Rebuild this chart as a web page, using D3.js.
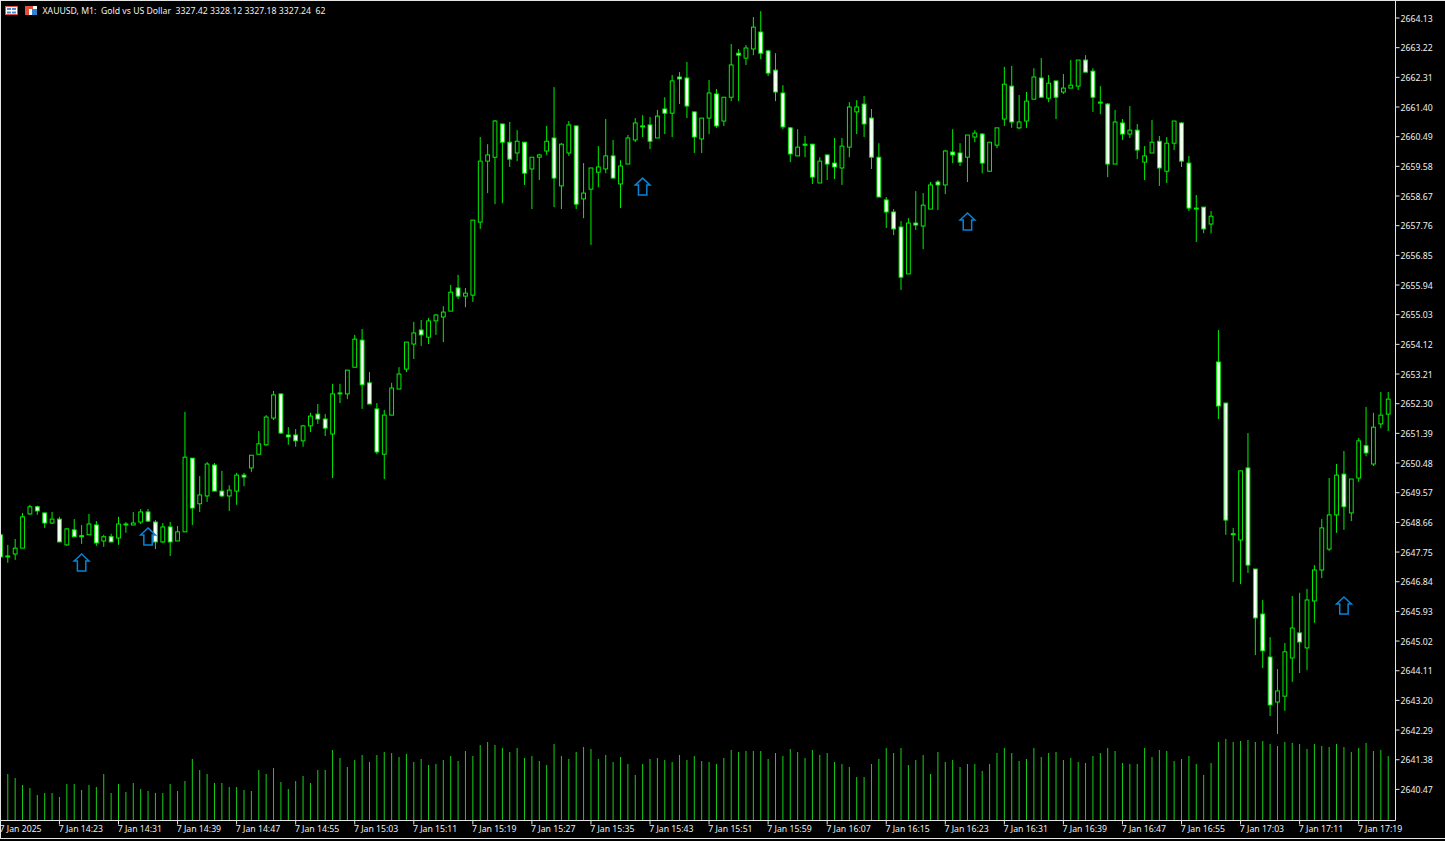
<!DOCTYPE html>
<html><head><meta charset="utf-8"><title>XAUUSD M1</title>
<script src="https://cdnjs.cloudflare.com/ajax/libs/d3/7.9.0/d3.min.js"></script>
<style>html,body{margin:0;padding:0;background:#000;overflow:hidden}svg{display:block}text{font-family:"Noto Sans",sans-serif;fill:#efefef}</style>
</head><body><svg id="c" width="1445" height="841"></svg>
<script>
const titleText = "XAUUSD, M1:  Gold vs US Dollar  3327.42 3328.12 3327.18 3327.24  62";
const priceTicks = [2664.13,2663.22,2662.31,2661.40,2660.49,2659.58,2658.67,2657.76,2656.85,2655.94,2655.03,2654.12,2653.21,2652.30,2651.39,2650.48,2649.57,2648.66,2647.75,2646.84,2645.93,2645.02,2644.11,2643.20,2642.29,2641.38,2640.47];
const timeLabels = ["7 Jan 2025","7 Jan 14:23","7 Jan 14:31","7 Jan 14:39","7 Jan 14:47","7 Jan 14:55","7 Jan 15:03","7 Jan 15:11","7 Jan 15:19","7 Jan 15:27","7 Jan 15:35","7 Jan 15:43","7 Jan 15:51","7 Jan 15:59","7 Jan 16:07","7 Jan 16:15","7 Jan 16:23","7 Jan 16:31","7 Jan 16:39","7 Jan 16:47","7 Jan 16:55","7 Jan 17:03","7 Jan 17:11","7 Jan 17:19"];
const opens = [2648.28,2647.63,2647.69,2647.87,2648.92,2649.14,2648.95,2648.64,2648.76,2647.97,2648.43,2648.25,2648.28,2648.58,2648.09,2648.22,2648.18,2648.61,2648.58,2648.67,2648.98,2648.67,2648.06,2648.52,2648.09,2648.37,2650.63,2649.23,2649.47,2650.42,2649.62,2649.47,2649.62,2650.11,2650.33,2650.75,2651.04,2651.86,2652.60,2651.34,2651.34,2651.16,2651.62,2651.98,2651.83,2651.37,2652.63,2652.60,2653.42,2654.25,2652.94,2652.14,2650.75,2651.95,2652.75,2653.36,2654.13,2654.56,2654.34,2654.84,2654.96,2655.14,2655.85,2655.60,2655.63,2657.87,2659.74,2659.86,2660.88,2660.32,2659.99,2660.32,2659.50,2659.86,2660.05,2660.45,2658.98,2659.99,2660.82,2658.58,2658.88,2659.40,2659.50,2659.90,2659.04,2659.65,2660.39,2660.82,2660.85,2660.45,2661.34,2661.21,2662.32,2662.29,2661.25,2660.42,2661.06,2661.80,2660.97,2661.70,2663.05,2662.90,2663.18,2663.70,2663.12,2662.53,2661.83,2660.76,2659.90,2660.26,2660.26,2659.07,2659.93,2659.68,2659.53,2660.17,2661.25,2661.49,2661.06,2659.86,2658.55,2658.18,2657.72,2656.28,2657.84,2657.75,2658.27,2659.10,2659.01,2660.02,2659.99,2659.86,2660.48,2660.57,2659.43,2660.23,2661.03,2662.04,2660.76,2660.97,2661.64,2662.29,2661.67,2662.20,2661.86,2661.98,2662.04,2662.84,2662.50,2661.55,2661.49,2659.65,2660.91,2660.57,2660.69,2659.71,2659.99,2660.35,2659.43,2660.29,2660.91,2659.68,2658.30,2658.33,2657.81,2653.58,2652.32,2648.31,2648.12,2650.33,2647.23,2645.85,2644.53,2643.15,2643.33,2644.50,2645.27,2644.81,2646.25,2647.20,2647.84,2648.89,2650.14,2648.95,2650.02,2651.01,2650.45,2651.68,2651.98];
const highs = [2648.28,2647.97,2648.15,2648.95,2649.20,2649.17,2648.95,2648.98,2648.83,2648.49,2648.76,2648.58,2648.92,2648.70,2648.28,2648.31,2648.83,2648.67,2648.98,2649.07,2649.07,2648.73,2648.64,2648.67,2648.55,2652.05,2650.63,2650.08,2650.51,2650.48,2650.24,2649.80,2650.18,2650.18,2650.72,2651.46,2651.95,2652.69,2652.60,2651.58,2651.52,2651.65,2652.02,2652.29,2651.98,2652.91,2652.91,2653.33,2654.41,2654.59,2653.27,2652.32,2652.11,2652.94,2653.42,2654.19,2654.81,2654.87,2654.93,2655.05,2655.29,2655.94,2656.25,2655.85,2657.93,2660.48,2660.26,2661.00,2660.88,2660.94,2660.69,2660.32,2659.86,2659.96,2660.82,2662.01,2660.29,2660.97,2660.82,2659.68,2659.53,2660.20,2661.03,2660.39,2659.77,2660.54,2661.06,2661.15,2661.09,2661.31,2661.70,2662.38,2662.47,2662.78,2661.25,2661.06,2662.23,2661.95,2661.70,2663.33,2663.18,2663.30,2664.16,2664.34,2663.15,2663.05,2662.07,2660.79,2660.72,2660.51,2660.26,2659.86,2659.93,2660.45,2660.45,2661.55,2661.61,2661.74,2661.34,2660.29,2658.64,2658.27,2657.90,2657.99,2658.82,2658.76,2659.10,2659.16,2660.08,2660.72,2660.29,2660.54,2660.69,2660.60,2660.32,2660.76,2662.63,2662.66,2661.77,2661.86,2662.59,2662.90,2662.38,2662.20,2662.41,2662.84,2662.84,2662.99,2662.59,2662.04,2661.52,2661.31,2661.03,2661.43,2660.88,2660.20,2661.00,2660.51,2660.48,2660.97,2660.94,2659.90,2658.70,2658.33,2658.21,2654.56,2652.32,2648.49,2650.24,2651.40,2647.23,2646.28,2645.14,2644.16,2644.96,2646.40,2646.50,2646.62,2647.35,2648.76,2650.02,2650.45,2650.85,2649.99,2651.25,2652.20,2652.02,2652.66,2652.66];
const lows = [2647.42,2647.42,2647.51,2647.87,2648.89,2648.89,2648.49,2648.61,2648.06,2647.94,2648.22,2648.00,2648.28,2647.94,2647.91,2648.06,2647.97,2648.34,2648.58,2648.61,2648.67,2647.84,2648.03,2647.63,2648.09,2648.37,2648.58,2648.98,2649.29,2649.62,2649.44,2649.01,2649.20,2649.77,2650.21,2650.75,2651.01,2651.80,2651.37,2651.04,2650.98,2650.98,2651.43,2651.68,2651.31,2650.02,2652.32,2652.44,2653.42,2652.14,2652.29,2650.75,2649.99,2651.95,2652.75,2653.27,2653.67,2654.07,2654.13,2654.41,2654.19,2655.14,2655.51,2655.26,2655.42,2657.66,2658.76,2658.42,2658.45,2659.56,2659.74,2659.01,2658.27,2659.16,2659.93,2658.33,2658.27,2659.90,2658.27,2657.99,2657.17,2658.94,2659.37,2659.22,2658.30,2659.65,2660.32,2660.48,2660.11,2660.45,2660.57,2660.48,2661.49,2661.06,2659.99,2659.99,2660.57,2660.76,2660.82,2661.58,2661.58,2662.69,2662.99,2662.87,2662.35,2661.58,2660.72,2659.71,2659.90,2659.86,2659.04,2659.07,2659.16,2659.19,2659.01,2659.86,2660.57,2660.48,2659.50,2658.64,2657.69,2657.47,2655.79,2656.28,2657.63,2657.04,2658.27,2658.24,2658.73,2659.68,2659.59,2659.10,2660.32,2659.37,2659.43,2660.14,2660.82,2660.76,2660.72,2660.76,2661.64,2661.70,2661.55,2661.03,2661.80,2661.98,2661.92,2662.47,2661.25,2661.18,2659.25,2659.65,2660.39,2660.45,2659.80,2659.16,2659.99,2658.98,2659.07,2660.08,2659.56,2658.21,2657.26,2657.53,2657.53,2651.83,2648.28,2646.83,2646.77,2647.11,2644.59,2644.19,2642.72,2642.17,2642.88,2643.77,2644.04,2644.13,2645.58,2646.95,2647.78,2648.34,2648.43,2648.70,2649.90,2650.69,2650.39,2651.55,2651.46];
const closes = [2647.60,2647.60,2647.87,2648.83,2649.14,2649.01,2648.64,2648.76,2648.06,2648.46,2648.22,2648.22,2648.61,2648.03,2648.22,2648.06,2648.61,2648.58,2648.64,2648.98,2648.70,2648.06,2648.52,2648.06,2648.37,2650.66,2649.10,2649.50,2650.45,2649.62,2649.47,2649.65,2650.11,2650.05,2650.72,2651.07,2651.89,2652.57,2651.40,2651.28,2651.16,2651.62,2651.92,2651.83,2651.55,2652.60,2652.60,2653.33,2654.28,2652.88,2652.29,2650.82,2651.95,2652.78,2653.21,2654.19,2654.47,2654.41,2654.84,2655.02,2655.11,2655.72,2655.60,2655.69,2657.93,2659.74,2659.93,2660.97,2660.32,2659.80,2660.35,2659.37,2659.86,2659.93,2660.35,2659.22,2660.26,2660.85,2658.42,2658.76,2659.53,2659.56,2659.90,2659.22,2659.59,2660.45,2660.91,2660.79,2660.35,2661.12,2661.21,2662.20,2662.26,2661.43,2660.48,2661.06,2661.83,2660.82,2661.70,2662.69,2662.99,2663.21,2663.85,2663.05,2662.44,2661.86,2660.79,2659.96,2660.17,2660.23,2659.25,2659.74,2659.65,2659.56,2660.20,2661.40,2661.40,2660.88,2659.86,2658.64,2658.18,2657.66,2656.18,2657.84,2657.78,2658.39,2659.01,2659.01,2660.05,2659.93,2659.71,2660.54,2660.60,2659.68,2660.32,2660.76,2662.10,2660.94,2660.94,2661.58,2662.32,2661.70,2662.13,2661.70,2661.98,2662.07,2662.84,2662.47,2661.70,2661.52,2659.65,2660.94,2660.57,2660.69,2660.08,2659.90,2660.32,2659.53,2660.29,2660.97,2659.74,2658.30,2658.27,2657.66,2658.05,2652.23,2648.73,2648.28,2650.24,2647.35,2645.73,2644.72,2643.06,2643.49,2644.69,2645.42,2644.99,2646.28,2647.20,2648.49,2648.89,2650.11,2649.14,2649.99,2651.16,2650.79,2651.58,2651.95,2652.44];
const volumes = [40,46,42,35,32,25,27,27,23,36,36,30,35,33,46,27,36,28,37,31,29,27,27,36,29,39,61,50,46,37,37,33,33,30,29,50,46,52,38,31,39,44,37,50,50,70,62,53,60,65,58,65,68,67,63,66,58,61,55,56,60,64,59,69,64,75,78,75,72,68,72,62,64,59,55,76,64,61,68,73,71,61,65,58,63,56,45,56,61,62,60,58,65,60,64,59,58,56,62,70,68,69,69,69,61,67,64,71,68,62,70,65,67,58,56,53,43,43,56,61,72,67,72,55,60,65,46,68,58,60,53,56,56,49,56,67,72,67,59,61,72,63,67,68,60,62,58,57,64,67,72,69,57,56,56,72,63,70,69,59,61,64,56,45,57,78,81,78,79,80,78,79,76,74,78,77,76,71,76,74,73,76,73,68,72,77,69,70,64];
const arrowBars = [11,20,87,131,182];
const arrowPrices = [2647.69,2648.49,2659.22,2658.15,2646.37];

const W=1445,H=841,axisX=1395.5,axisY=820.5,step=7.382;
const svg=d3.select("#c");
const x=d3.scaleLinear().domain([0,opens.length-1]).range([0.4,0.4+step*(opens.length-1)]);
const y=d3.scaleLinear().domain([priceTicks[0],priceTicks[priceTicks.length-1]]).range([18,789.4]);
const v=d3.scaleLinear().domain([0,100]).range([820,720]);
const LIME="#00f000";

svg.append("rect").attr("width",W).attr("height",H).attr("fill","#000");
const plot=svg.append("g");

plot.append("g").selectAll("line").data(volumes).join("line")
 .attr("x1",(d,i)=>x(i)).attr("x2",(d,i)=>x(i)).attr("y1",v(0)).attr("y2",d=>v(d))
 .attr("stroke","#16d016").attr("stroke-width",1);

const idx=d3.range(opens.length);
plot.append("g").selectAll("line").data(idx).join("line")
 .attr("x1",i=>x(i)).attr("x2",i=>x(i)).attr("y1",i=>y(highs[i])).attr("y2",i=>y(lows[i]))
 .attr("stroke",LIME).attr("stroke-width",1);
plot.append("g").selectAll("rect").data(idx).join("rect")
 .attr("x",i=>x(i)-1.9).attr("width",3.8)
 .attr("y",i=>y(Math.max(opens[i],closes[i])))
 .attr("height",i=>Math.max(0.6,Math.abs(y(opens[i])-y(closes[i]))))
 .attr("fill",i=>closes[i]<opens[i]?"#fff":"#000")
 .attr("stroke",LIME).attr("stroke-width",1);

const arrow=d3.line();
plot.append("g").selectAll("path").data(arrowBars).join("path")
 .attr("transform",(b,k)=>`translate(${x(b)},${y(arrowPrices[k])})`)
 .attr("d",arrow([[0,0],[7.4,7],[4.2,7],[4.2,17],[-4.2,17],[-4.2,7],[-7.4,7]])+"Z")
 .attr("fill","none").attr("stroke","#0a82d6").attr("stroke-width",1.5);

const frame="#e4e4e4";
const fr=svg.append("g").attr("stroke",frame).attr("fill","none");
fr.append("line").attr("x1",axisX).attr("x2",axisX).attr("y1",0).attr("y2",axisY);
fr.append("line").attr("x1",0).attr("x2",axisX).attr("y1",axisY).attr("y2",axisY);
fr.append("line").attr("x1",0.5).attr("x2",0.5).attr("y1",0).attr("y2",838);
fr.append("line").attr("x1",0).attr("x2",W).attr("y1",0.5).attr("y2",0.5);
fr.append("line").attr("x1",0).attr("x2",W).attr("y1",838.5).attr("y2",838.5);

const yg=svg.append("g").selectAll("g").data(priceTicks).join("g").attr("transform",d=>`translate(${axisX},${y(d)})`);
yg.append("line").attr("x1",0).attr("x2",4).attr("stroke",frame);
yg.append("text").attr("x",5).attr("y",3.6).attr("font-size",8.7).text(d=>d.toFixed(2));

const xg=svg.append("g").selectAll("g").data(timeLabels).join("g").attr("transform",(d,k)=>`translate(${x(k*8)},${axisY})`);
xg.append("line").attr("y1",0).attr("y2",4).attr("stroke",frame);
xg.append("text").attr("x",-0.8).attr("y",11).attr("font-size",8.7).text(d=>d);

const ic=svg.append("g");
ic.append("rect").attr("x",5.5).attr("y",6.5).attr("width",12).attr("height",8).attr("fill","#fff").attr("stroke","#e0503a");
[[7,8],[12,8],[7,11.5],[12,11.5]].forEach(p=>ic.append("rect").attr("x",p[0]).attr("y",p[1]).attr("width",4).attr("height",2).attr("fill","#4a86d8"));
ic.append("rect").attr("x",25).attr("y",6).attr("width",12).attr("height",9).attr("fill","#fff");
ic.append("rect").attr("x",25).attr("y",6).attr("width",4).attr("height",9).attr("fill","#e0503a");
ic.append("rect").attr("x",29).attr("y",6).attr("width",4).attr("height",3).attr("fill","#e0503a");
ic.append("rect").attr("x",32).attr("y",9).attr("width",5).attr("height",6).attr("fill","#2f82d0");
svg.append("text").attr("x",42.5).attr("y",14).attr("font-size",8.7).style("white-space","pre").text(titleText);
</script></body></html>
